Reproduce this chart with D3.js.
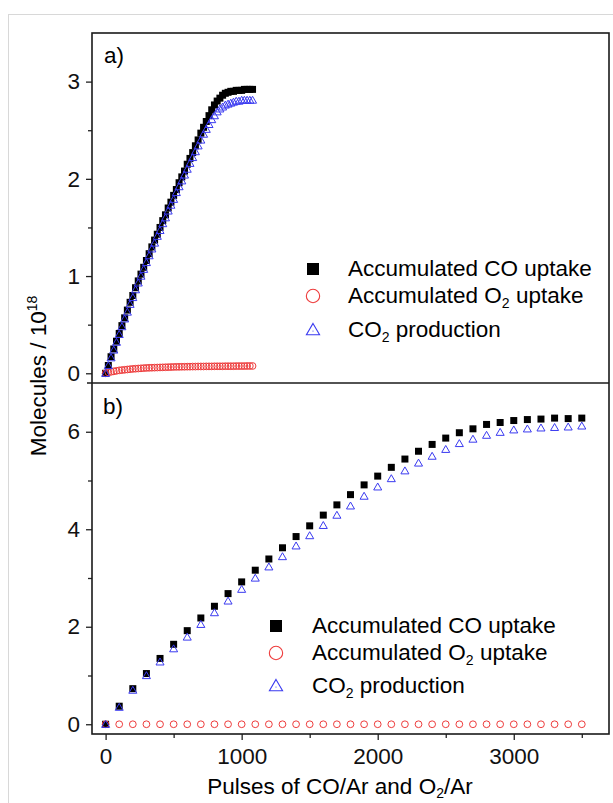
<!DOCTYPE html>
<html><head><meta charset="utf-8">
<script src="https://cdn.jsdelivr.net/npm/d3@7"></script>
<style>
html,body{margin:0;padding:0;background:#fff;}
svg{display:block;font-family:"Liberation Sans",Arial,sans-serif;}
</style></head>
<body><svg id="c" width="613" height="803"></svg>
<script>
// ---- data ----
const topPulses = [0,20,40,60,80,100,120,140,160,180,200,220,240,260,280,300,320,340,360,380,400,420,440,460,480,500,520,540,560,580,600,620,640,660,680,700,720,740,760,780,800,820,840,860,880,900,920,940,960,980,1000,1020,1040,1060,1080];
const topCO = [0.00,0.08,0.17,0.25,0.33,0.41,0.49,0.57,0.65,0.73,0.80,0.88,0.95,1.02,1.09,1.16,1.23,1.30,1.37,1.43,1.50,1.57,1.63,1.70,1.76,1.83,1.89,1.96,2.02,2.08,2.15,2.21,2.27,2.34,2.40,2.47,2.53,2.59,2.65,2.71,2.76,2.80,2.83,2.86,2.88,2.89,2.90,2.90,2.91,2.91,2.91,2.92,2.92,2.92,2.92];
const topO2 = [0.00,0.01,0.015,0.02,0.025,0.03,0.033,0.036,0.039,0.042,0.045,0.047,0.049,0.051,0.053,0.055,0.056,0.057,0.058,0.059,0.060,0.061,0.062,0.063,0.064,0.065,0.066,0.066,0.067,0.067,0.068,0.068,0.069,0.069,0.070,0.070,0.070,0.071,0.071,0.071,0.072,0.072,0.072,0.072,0.073,0.073,0.073,0.073,0.074,0.074,0.074,0.074,0.075,0.075,0.075];
const topCO2 = [0.00,0.08,0.16,0.24,0.32,0.40,0.48,0.56,0.63,0.71,0.78,0.86,0.93,1.00,1.07,1.14,1.21,1.28,1.34,1.41,1.47,1.54,1.60,1.67,1.73,1.79,1.86,1.92,1.98,2.04,2.10,2.16,2.22,2.28,2.34,2.40,2.46,2.51,2.56,2.61,2.65,2.69,2.72,2.74,2.76,2.77,2.78,2.79,2.80,2.80,2.81,2.81,2.81,2.81,2.81];

const botPulses = [0,100,200,300,400,500,600,700,800,900,1000,1100,1200,1300,1400,1500,1600,1700,1800,1900,2000,2100,2200,2300,2400,2500,2600,2700,2800,2900,3000,3100,3200,3300,3400,3500];
const botCO = [0,0.37,0.73,1.04,1.35,1.64,1.92,2.18,2.42,2.68,2.92,3.16,3.39,3.62,3.85,4.07,4.29,4.50,4.71,4.91,5.09,5.27,5.44,5.60,5.74,5.87,5.98,6.06,6.15,6.19,6.23,6.25,6.26,6.28,6.27,6.28];
const botO2 = [0,0,0,0,0,0,0,0,0,0,0,0,0,0,0,0,0,0,0,0,0,0,0,0,0,0,0,0,0,0,0,0,0,0,0,0];
const botCO2 = [0,0.35,0.70,1.00,1.28,1.55,1.79,2.05,2.29,2.53,2.77,3.00,3.23,3.44,3.66,3.87,4.08,4.29,4.48,4.68,4.87,5.04,5.20,5.36,5.50,5.64,5.76,5.85,5.93,5.99,6.04,6.06,6.08,6.09,6.10,6.12];

const xMajor = [0,1000,2000,3000];
const xMinor = [500,1500,2500,3500];
const topYMajor = [0,1,2,3];
const topYMinor = [0.5,1.5,2.5];
const botYMajor = [0,2,4,6];
const botYMinor = [1,3,5];

// ---- layout ----
const L = 92, R = 609, T = 33, MID = 383, B = 734;
const FS = 22.5;
const svg = d3.select("#c");

// light outer frame
svg.append("rect").attr("x",8.5).attr("y",14.5).attr("width",640).attr("height",840)
  .attr("fill","none").attr("stroke","#d8d8d8").attr("stroke-width",1);

const x = d3.scaleLinear().domain([-100,3700]).range([L,R]);
const yTop = d3.scaleLinear().domain([-0.1,3.5]).range([MID,T]);
const yBot = d3.scaleLinear().domain([-0.2,7]).range([B,MID]);

function styleAxis(g){
  g.select(".domain").remove();
  g.selectAll(".tick line").attr("stroke","#222").attr("stroke-width",1.3);
  g.selectAll(".tick text").attr("font-size",FS).attr("fill","#111").attr("font-family","Liberation Sans, Arial, sans-serif");
}
// y axes
[[yTop,topYMajor,topYMinor],[yBot,botYMajor,botYMinor]].forEach(([y,maj,min])=>{
  svg.append("g").attr("transform",`translate(${L},0)`)
    .call(d3.axisLeft(y).tickValues(maj).tickSize(6).tickPadding(6).tickFormat(d3.format("d"))).call(styleAxis);
  svg.append("g").attr("transform",`translate(${L},0)`)
    .call(d3.axisLeft(y).tickValues(min).tickSize(4).tickFormat("")).call(styleAxis);
});
// x axis
svg.append("g").attr("transform",`translate(0,${B})`)
  .call(d3.axisBottom(x).tickValues(xMajor).tickSize(6).tickPadding(8).tickFormat(d3.format("d"))).call(styleAxis);
svg.append("g").attr("transform",`translate(0,${B})`)
  .call(d3.axisBottom(x).tickValues(xMinor).tickSize(4).tickFormat("")).call(styleAxis);

// frames
const frame = svg.append("g").attr("fill","none").attr("stroke","#1a1a1a").attr("stroke-width",1.6);
frame.append("rect").attr("x",L).attr("y",T).attr("width",R-L).attr("height",B-T);
frame.append("line").attr("x1",L-5).attr("x2",R).attr("y1",MID).attr("y2",MID);

// markers
const symSq = d3.symbol().type(d3.symbolSquare).size(49);
const symCi = d3.symbol().type(d3.symbolCircle).size(36);
const symTr = d3.symbol().type(d3.symbolTriangle).size(28);
const RED = "#ee3b3b", BLUE = "#3a3af0";

function drawSeries(px, vals, y, kind){
  const g = svg.append("g");
  const pts = px.map((p,i)=>[x(p), y(vals[i])]);
  if(kind==="sq"){
    g.selectAll("path").data(pts).join("path").attr("d",symSq)
      .attr("transform",d=>`translate(${d[0]},${d[1]})`).attr("fill","#000");
  } else if(kind==="ci"){
    g.selectAll("path").data(pts).join("path").attr("d",symCi)
      .attr("transform",d=>`translate(${d[0]},${d[1]})`).attr("fill","none").attr("stroke",RED).attr("stroke-width",1);
  } else {
    g.selectAll("path").data(pts).join("path").attr("d",symTr)
      .attr("transform",d=>`translate(${d[0]},${d[1]+0.8})`).attr("fill","none").attr("stroke",BLUE).attr("stroke-width",1);
  }
}
drawSeries(topPulses, topCO, yTop, "sq");
drawSeries(topPulses, topO2, yTop, "ci");
drawSeries(topPulses, topCO2, yTop, "tr");
drawSeries(botPulses, botCO, yBot, "sq");
drawSeries(botPulses, botO2, yBot, "ci");
drawSeries(botPulses, botCO2, yBot, "tr");

// panel labels
svg.append("text").attr("x",104).attr("y",63).attr("font-size",FS).text("a)");
svg.append("text").attr("x",103).attr("y",414).attr("font-size",FS).text("b)");

// legends
function legend(mx, tx, rows){
  const g = svg.append("g");
  const lsq = d3.symbol().type(d3.symbolSquare).size(144);
  const lci = d3.symbol().type(d3.symbolCircle).size(140);
  const ltr = d3.symbol().type(d3.symbolTriangle).size(75);
  g.append("path").attr("d",lsq).attr("transform",`translate(${mx},${rows[0]})`).attr("fill","#000");
  g.append("path").attr("d",lci).attr("transform",`translate(${mx},${rows[1]})`).attr("fill","none").attr("stroke",RED).attr("stroke-width",1.1);
  g.append("path").attr("d",ltr).attr("transform",`translate(${mx},${rows[2]+1})`).attr("fill","none").attr("stroke",BLUE).attr("stroke-width",1.1);
  g.append("circle").attr("cx",mx).attr("cy",rows[2]+1).attr("r",0.6).attr("fill",BLUE);
  const t1 = g.append("text").attr("x",tx).attr("y",rows[0]+7).attr("font-size",FS).text("Accumulated CO uptake");
  const t2 = g.append("text").attr("x",tx).attr("y",rows[1]+7).attr("font-size",FS);
  t2.append("tspan").text("Accumulated O");
  t2.append("tspan").attr("font-size",14).attr("dy",5).text("2");
  t2.append("tspan").attr("dy",-5).text(" uptake");
  const t3 = g.append("text").attr("x",tx).attr("y",rows[2]+7).attr("font-size",FS);
  t3.append("tspan").text("CO");
  t3.append("tspan").attr("font-size",14).attr("dy",5).text("2");
  t3.append("tspan").attr("dy",-5).text(" production");
}
legend(313, 348, [269, 296, 330]);
legend(276, 312, [626, 653, 686]);

// axis titles
const xt = svg.append("text").attr("x",340).attr("y",794).attr("text-anchor","middle").attr("font-size",FS);
xt.append("tspan").text("Pulses of CO/Ar and O");
xt.append("tspan").attr("font-size",14).attr("dy",4).text("2");
xt.append("tspan").attr("dy",-4).text("/Ar");

const yt = svg.append("text").attr("transform","translate(46,376) rotate(-90)").attr("text-anchor","middle").attr("font-size",FS);
yt.append("tspan").text("Molecules / 10");
yt.append("tspan").attr("font-size",14).attr("dy",-9).text("18");
</script>
</body></html>
